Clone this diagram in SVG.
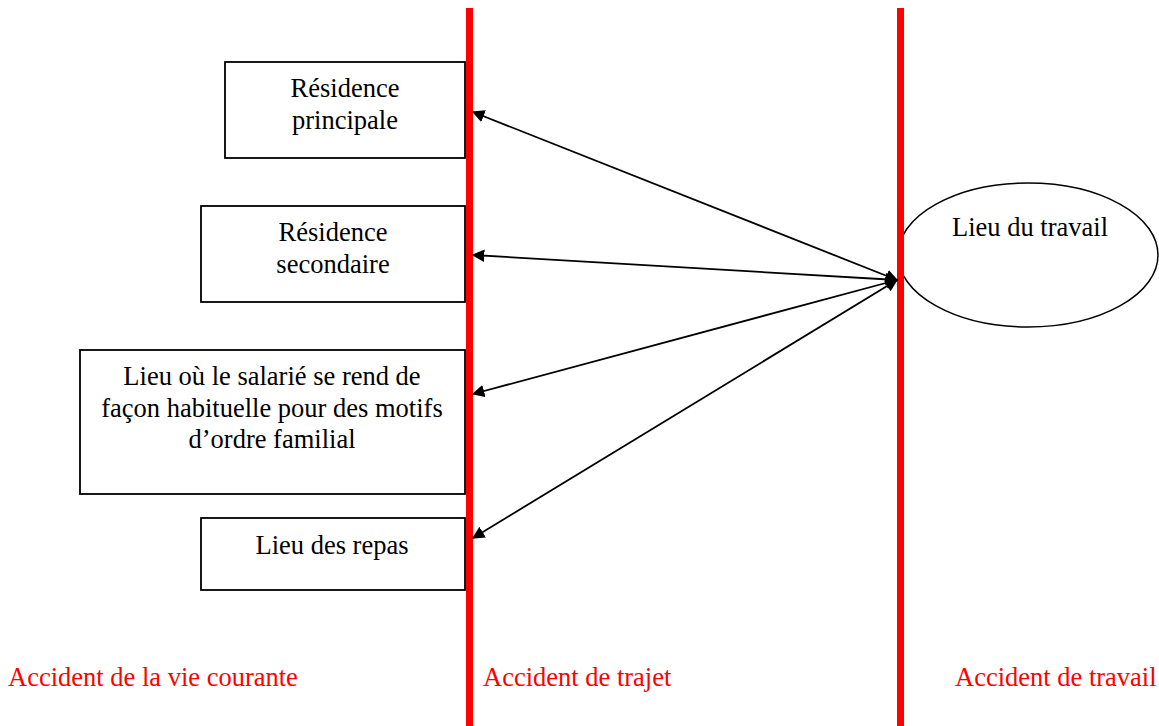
<svg xmlns="http://www.w3.org/2000/svg" width="1159" height="726" viewBox="0 0 1159 726">
<style>
.box{fill:#fff;stroke:#000;stroke-width:1.8}
.t{font-family:"Liberation Serif","Times New Roman",serif;font-size:26.5px;fill:#000;text-anchor:middle}
.r{font-family:"Liberation Serif","Times New Roman",serif;font-size:26.5px;fill:#f00}
.red{stroke:#f00;stroke-width:7}
.c{stroke:#000;stroke-width:1.8;fill:none;marker-start:url(#ah);marker-end:url(#ah)}
</style>
<defs>
<marker id="ah" viewBox="0 0 10 10" refX="9" refY="5" markerWidth="7" markerHeight="7" orient="auto-start-reverse" markerUnits="strokeWidth">
<path d="M0,0 L10,5 L0,10 z" fill="#000"/>
</marker>
</defs>
<rect width="1159" height="726" fill="#fff"/>
<g id="n1"><rect class="box" x="225" y="62" width="240" height="96"/><text class="t" x="345" y="97">Résidence</text><text class="t" x="345" y="128.5">principale</text></g>
<g id="n2"><rect class="box" x="201" y="206" width="264" height="96"/><text class="t" x="333" y="241">Résidence</text><text class="t" x="333" y="272.5">secondaire</text></g>
<g id="n3"><rect class="box" x="80" y="350" width="385" height="144"/><text class="t" x="272" y="385">Lieu où le salarié se rend de</text><text class="t" x="272" y="416.5">façon habituelle pour des motifs</text><text class="t" x="272" y="448">d’ordre familial</text></g>
<g id="n4"><rect class="box" x="201" y="518" width="264" height="72"/><text class="t" x="332" y="554">Lieu des repas</text></g>
<g id="n5"><ellipse cx="1028" cy="255" rx="130" ry="72" fill="#fff" stroke="#000" stroke-width="1.5"/><text class="t" x="1030" y="236">Lieu du travail</text></g>
<g id="lines">
<line class="red" x1="469.5" y1="8" x2="469.5" y2="726"/>
<line class="red" x1="900.5" y1="8" x2="900.5" y2="726"/>
</g>
<g id="connectors">
<line class="c" x1="473" y1="112" x2="897" y2="280"/>
<line class="c" x1="473" y1="255" x2="897" y2="280"/>
<line class="c" x1="473" y1="394" x2="897" y2="280"/>
<line class="c" x1="473" y1="538" x2="897" y2="280" stroke-width="1.3"/>
</g>
<g id="labels">
<text class="r" x="8" y="686">Accident de la vie courante</text>
<text class="r" x="483" y="686">Accident de trajet</text>
<text class="r" x="955" y="686">Accident de travail</text>
</g>
</svg>
